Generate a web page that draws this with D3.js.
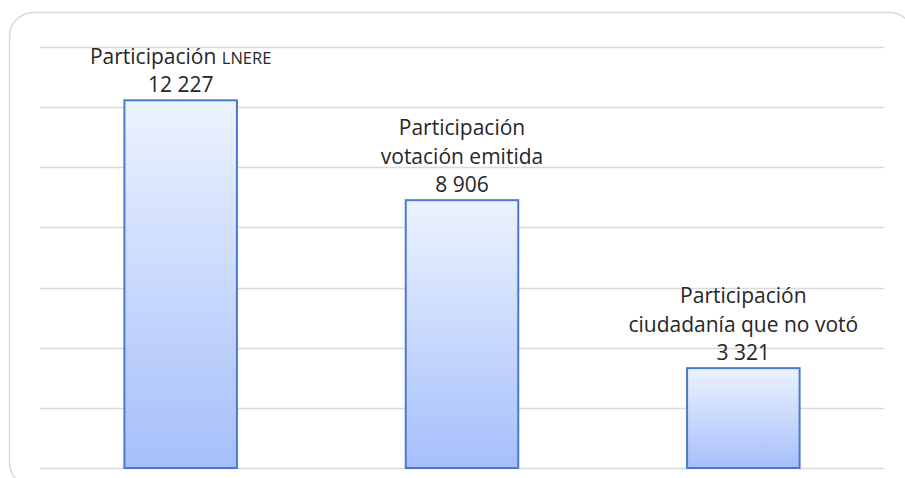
<!DOCTYPE html>
<html>
<head>
<meta charset="utf-8">
<script src="https://cdn.jsdelivr.net/npm/d3@7"></script>
<style>
  body { margin: 0; background: #fff; overflow: hidden; }
  svg { display: block; font-family: "Open Sans", sans-serif; }
</style>
</head>
<body>
<div class="svg-frame"></div>
<script>
// values
const categories = ["lnere", "emitida", "novoto"]
const values = [12227, 8906, 3321]
const labelLines = [
  [["Participación ", "LNERE"]],
  [["Participación"], ["votación emitida"]],
  [["Participación"], ["ciudadanía que no votó"]]
]
const gridTicks = [0, 2000, 4000, 6000, 8000, 10000, 12000, 14000]

function drawViz() {
  const width = 905, height = 478
  const svg = d3.select(".svg-frame")
    .append("svg")
    .attr("width", width)
    .attr("height", height)

  const margin = { top: 47, right: 21, bottom: 10, left: 40 }

  // outer rounded frame, runs off right/bottom
  svg.append("rect")
    .attr("x", 9.5).attr("y", 12.5)
    .attr("width", 904).attr("height", 474)
    .attr("rx", 24)
    .attr("fill", "none")
    .attr("stroke", "#d9d9d9")
    .attr("stroke-width", 1.5)

  const xScale = d3.scaleBand(categories, [margin.left, width - margin.right])
  const yScale = d3.scaleLinear([0, 14000], [height - margin.bottom, margin.top])

  const defs = svg.append("defs")
  const grad = defs.append("linearGradient")
    .attr("id", "barGrad")
    .attr("x1", 0).attr("y1", 0).attr("x2", 0).attr("y2", 1)
  grad.append("stop").attr("offset", "0%").attr("stop-color", "#ecf3fe")
  grad.append("stop").attr("offset", "100%").attr("stop-color", "#a6bffb")

  //gridlines
  svg.append("g")
    .selectAll("line")
    .data(gridTicks)
    .join("line")
      .attr("x1", margin.left)
      .attr("x2", width - margin.right)
      .attr("y1", d => Math.round(yScale(d)) + 0.5)
      .attr("y2", d => Math.round(yScale(d)) + 0.5)
      .attr("stroke", "#d9d9d9")
      .attr("stroke-width", 1.5)

  const barW = xScale.bandwidth() * 0.4
  const data = categories.map((c, i) => ({ c, v: values[i], lines: labelLines[i] }))

  svg.append("g")
    .selectAll("rect")
    .data(data)
    .join("rect")
      .attr("x", d => xScale(d.c) + (xScale.bandwidth() - barW) / 2)
      .attr("y", d => yScale(d.v))
      .attr("width", barW)
      .attr("height", d => yScale(0) - yScale(d.v))
      .attr("fill", "url(#barGrad)")
      .attr("stroke", "#4a7acf")
      .attr("stroke-width", 2)

  // labels above bars
  const fmt = v => d3.format(",")(v).replace(/,/g, " ")
  const lineH = 28.5
  const labels = svg.append("g")
    .selectAll("text")
    .data(data)
    .join("text")
      .attr("text-anchor", "middle")
      .attr("fill", "#262626")
      .attr("font-size", 21)

  labels.each(function (d) {
    const t = d3.select(this)
    const cx = xScale(d.c) + xScale.bandwidth() / 2
    const base = yScale(d.v) - 8
    const all = d.lines.concat([[fmt(d.v)]])
    all.forEach((parts, k) => {
      t.append("tspan")
        .attr("x", cx)
        .attr("y", base - (all.length - 1 - k) * lineH)
        .text(parts[0])
      if (parts[1]) {
        t.append("tspan").attr("font-size", 16.5).text(parts[1])
      }
    })
  })
}

drawViz()
</script>
</body>
</html>
